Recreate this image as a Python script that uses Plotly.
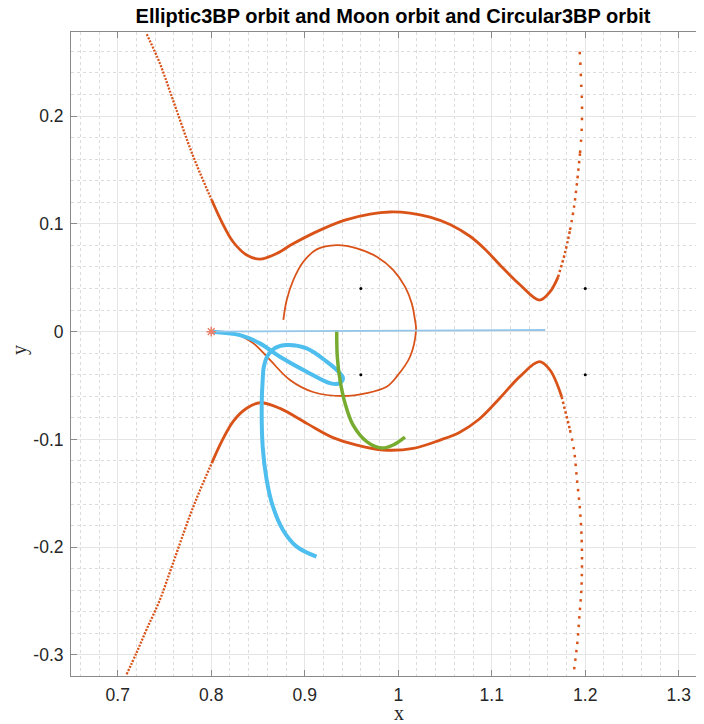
import plotly.graph_objects as go

# ---------------- data ----------------
# Zero-velocity curve, upper branch
zu_left_x = [0.731, 0.745, 0.756, 0.7666, 0.7773, 0.788, 0.8005]
zu_left_y = [0.276, 0.249, 0.2225, 0.1963, 0.1703, 0.1471, 0.1221]
zu_mid_x = [0.8005, 0.8112, 0.8233, 0.8379, 0.8521, 0.87, 0.8874, 0.9163, 0.943, 0.9698,
            0.9912, 1.0126, 1.034, 1.0554, 1.0767, 1.0928, 1.1088, 1.1302, 1.1509, 1.1623, 1.1709]
zu_mid_y = [0.1221, 0.1019, 0.0834, 0.0711, 0.0673, 0.0725, 0.0815, 0.0942, 0.1035, 0.1091,
            0.111, 0.11, 0.1063, 0.0995, 0.0885, 0.0765, 0.0618, 0.0435, 0.0293, 0.037, 0.0506]
zu_r1_x = [1.1709, 1.1783, 1.1837]
zu_r1_y = [0.0506, 0.0729, 0.0942]
zu_r2_x = [1.1837, 1.188, 1.1915, 1.1944]
zu_r2_y = [0.0942, 0.1156, 0.1406, 0.1657]
zu_r3_x = [1.1944, 1.1962, 1.1965, 1.1955, 1.1944, 1.1933]
zu_r3_y = [0.1657, 0.187, 0.212, 0.2334, 0.2547, 0.2677]

# Zero-velocity curve, lower branch
zl_left_x = [0.7095, 0.72, 0.731, 0.745, 0.756, 0.7666, 0.7773, 0.788, 0.8005]
zl_left_y = [-0.318, -0.298, -0.276, -0.249, -0.2225, -0.1963, -0.1703, -0.1471, -0.1221]
zl_mid_x = [0.8005, 0.8112, 0.8233, 0.8379, 0.8521, 0.8735, 0.9021, 0.9302, 0.9556, 0.984,
            1.0161, 1.0447, 1.0654, 1.0861, 1.1088, 1.1302, 1.1509, 1.1623, 1.1748]
zl_mid_y = [-0.1221, -0.1019, -0.0834, -0.0711, -0.066, -0.0712, -0.0851, -0.0983, -0.1052, -0.1098,
            -0.1083, -0.1006, -0.0935, -0.0815, -0.0615, -0.0415, -0.0279, -0.0356, -0.0604]
zl_r1_x = [1.1748, 1.1837]
zl_r1_y = [-0.0604, -0.0913]
zl_r2_x = [1.1837, 1.188, 1.1912, 1.1944, 1.1962, 1.1965, 1.1958, 1.1937, 1.1915, 1.188]
zl_r2_y = [-0.0913, -0.1099, -0.1377, -0.1655, -0.1933, -0.2184, -0.2397, -0.2648, -0.2889, -0.3139]

# Thin orange orbit
orb_x = [0.8, 0.8233, 0.8447, 0.8628, 0.8842, 0.9088, 0.9409, 0.9663, 0.9876, 0.9983, 1.0126,
         1.019, 1.0179, 1.0144, 1.0072, 0.9947, 0.977, 0.9556, 0.9342, 0.9128, 0.8985, 0.8878,
         0.8807, 0.8771]
orb_y = [0.0, -0.0013, -0.0106, -0.0263, -0.0449, -0.056, -0.0597, -0.057, -0.0511, -0.0418, -0.0233,
         0.0015, 0.0108, 0.0263, 0.0417, 0.0571, 0.0695, 0.0773, 0.0803, 0.0763, 0.0648, 0.0479,
         0.0293, 0.0108]

# Thick light-blue orbit
blue_x = [0.8, 0.8307, 0.8521, 0.8735, 0.9021, 0.9278, 0.9377, 0.9409, 0.9377, 0.9235, 0.9021,
          0.8807, 0.8682, 0.8607, 0.8564, 0.855, 0.854, 0.855, 0.8593, 0.866, 0.8767, 0.8914, 0.9125]
blue_y = [0.0, -0.0032, -0.0109, -0.0233, -0.0372, -0.048, -0.0477, -0.043, -0.0387, -0.0279, -0.0155,
          -0.0124, -0.0152, -0.0217, -0.0319, -0.0449, -0.0665, -0.1068, -0.1377, -0.1624, -0.184,
          -0.1995, -0.2088]

# Green orbit
green_x = [0.9342, 0.9348, 0.9377, 0.943, 0.9516, 0.9663, 0.9823, 0.9944, 1.0072]
green_y = [0.0015, -0.0233, -0.0449, -0.0662, -0.0866, -0.1021, -0.108, -0.1052, -0.0978]

# Thin light-blue line
thin_x = [0.8, 1.1572]
thin_y = [0.0, 0.0015]

# Start marker and black points
star_x = [0.8]
star_y = [0.0]
pts_x = [0.96, 1.2, 0.96, 1.2]
pts_y = [0.04, 0.04, -0.04, -0.04]

x_ticks = [0.7, 0.8, 0.9, 1.0, 1.1, 1.2, 1.3]
x_tick_text = ["0.7", "0.8", "0.9", "1", "1.1", "1.2", "1.3"]
y_ticks = [-0.3, -0.2, -0.1, 0.0, 0.1, 0.2]
y_tick_text = ["-0.3", "-0.2", "-0.1", "0", "0.1", "0.2"]

# ---------------- figure ----------------
ORANGE = "#D95319"
fig = go.Figure()


def seg(x, y, width, dash="solid", color=ORANGE):
    fig.add_trace(go.Scatter(x=x, y=y, mode="lines",
                             line=dict(color=color, width=width, dash=dash, shape="spline", smoothing=1.0),
                             hoverinfo="skip", showlegend=False))


# upper ZVC
seg(zu_left_x, zu_left_y, 2.3, "2px,1.4px")
seg(zu_mid_x, zu_mid_y, 2.8)
seg(zu_r1_x, zu_r1_y, 2.5, "2.5px,2.5px")
seg(zu_r2_x, zu_r2_y, 2.5, "2.5px,5px")
seg(zu_r3_x, zu_r3_y, 2.5, "2.5px,8.5px")
# lower ZVC
seg(zl_left_x, zl_left_y, 2.3, "2px,1.4px")
seg(zl_mid_x, zl_mid_y, 2.8)
seg(zl_r1_x, zl_r1_y, 2.5, "2.5px,2.5px")
seg(zl_r2_x, zl_r2_y, 2.5, "2.5px,6px")

# orbits
seg(orb_x, orb_y, 1.8)
seg(blue_x, blue_y, 4, color="#4DBEEE")
seg(green_x, green_y, 3.5, color="#77AC30")
fig.add_trace(go.Scatter(x=thin_x, y=thin_y, mode="lines",
                         line=dict(color="#93C6EA", width=1.8), hoverinfo="skip", showlegend=False))
fig.add_trace(go.Scatter(x=star_x, y=star_y, mode="markers",
                         marker=dict(symbol="asterisk-open", size=8, color="#E8806A",
                                     line=dict(color="#E8806A", width=1.5)),
                         hoverinfo="skip", showlegend=False))
fig.add_trace(go.Scatter(x=pts_x, y=pts_y, mode="markers",
                         marker=dict(color="black", size=3),
                         hoverinfo="skip", showlegend=False))

axis_common = dict(
    showline=True, linecolor="#8a8a8a", linewidth=1,
    ticks="inside", ticklen=6, tickcolor="#8a8a8a",
    showgrid=True, gridcolor="#E5E5E5", gridwidth=1,
    zeroline=False,
    tickfont=dict(family="Liberation Sans, Arial, sans-serif", size=17.5, color="#262626"),
    minor=dict(showgrid=True, gridcolor="#DCDCDC", griddash="dot", gridwidth=1, dtick=0.02, ticks=""),
)

# The page body has an 8px margin, so the figure is sized/placed to compensate.
W, H = 696, 716
fig.update_layout(
    width=W, height=H,
    margin=dict(l=63, r=0, t=24, b=48),
    paper_bgcolor="white", plot_bgcolor="white",
    title=dict(text="<b>Elliptic3BP orbit and Moon orbit and Circular3BP orbit</b>",
               x=(393 - 8) / W, xref="container", xanchor="center",
               y=1 - (16 - 8) / H, yref="container", yanchor="middle",
               font=dict(family="Liberation Sans, Arial, sans-serif", size=20, color="black")),
    xaxis=dict(range=[0.65, 1.327], tickvals=x_ticks, ticktext=x_tick_text,
               mirror="ticks", ticklabelstandoff=3, **axis_common),
    yaxis=dict(range=[-0.3195, 0.278], tickvals=y_ticks, ticktext=y_tick_text,
               mirror=False, ticklabelstandoff=3, **axis_common),
    annotations=[
        dict(text="x", xref="paper", yref="paper", x=(399 - 71) / 633, y=-37 / 644,
             xanchor="center", yanchor="middle", showarrow=False,
             font=dict(family="Liberation Serif, DejaVu Serif, serif", size=20, color="#262626")),
        dict(text="y", xref="paper", yref="paper", x=-52 / 633, y=(676 - 350) / 644,
             xanchor="center", yanchor="middle", showarrow=False, textangle=-90,
             font=dict(family="Liberation Serif, DejaVu Serif, serif", size=20, color="#262626")),
    ],
)

fig.write_html("out.html")
